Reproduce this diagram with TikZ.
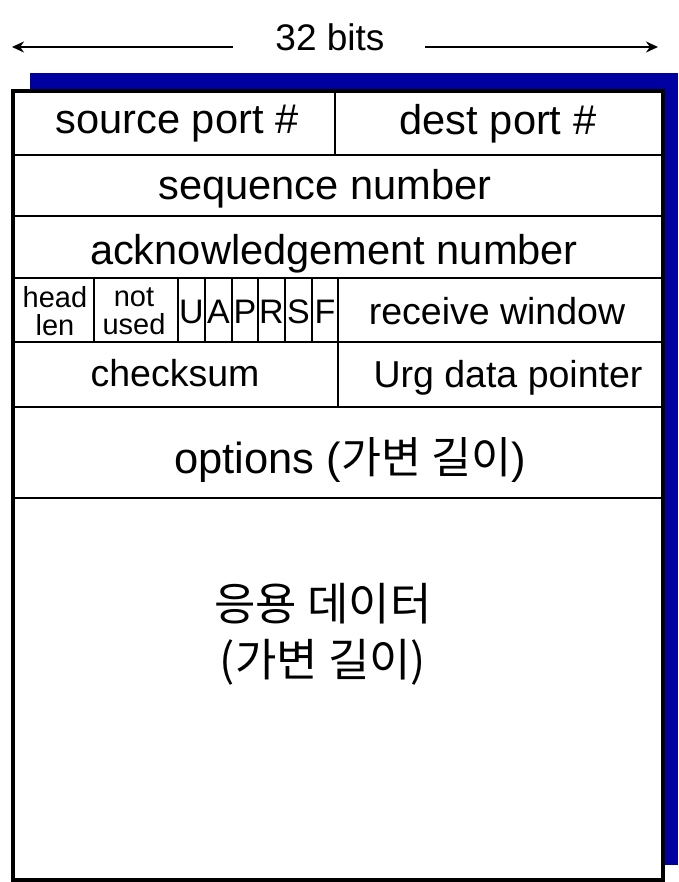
\documentclass[tikz,border=0pt]{standalone}
\usepackage{fontspec}
\setmainfont{Liberation Sans}
\newfontfamily\kr{Noto Sans CJK KR}
\usetikzlibrary{arrows.meta}
\definecolor{shadowblue}{RGB}{0,0,160}
\begin{document}
\begin{tikzpicture}[x=1pt,y=-1pt,
  lbl/.style={inner sep=0pt,font=\fontsize{41.6}{46}\selectfont},
  mid/.style={inner sep=0pt,font=\fontsize{37.5}{42}\selectfont},
  small/.style={inner sep=0pt,align=center,font=\fontsize{29}{28}\selectfont},
  flag/.style={inner sep=0pt,font=\fontsize{34}{36}\selectfont},
  inner/.style={line width=2.5pt},
  outer/.style={line width=4pt},
  dimarrow/.style={line width=2pt,-{Stealth[length=12pt,width=11pt]}}]
\useasboundingbox (0,0) rectangle (678,882);
% shadow
\fill[shadowblue] (30,73) rectangle (678,865);
% main box
\fill[white] (13,91) rectangle (663,880);
% row lines
\draw[inner] (13,155) -- (663,155);
\draw[inner] (13,216) -- (663,216);
\draw[inner] (13,278) -- (663,278);
\draw[inner] (13,342) -- (663,342);
\draw[inner] (13,407) -- (663,407);
\draw[inner] (13,498) -- (663,498);
% column lines
\draw[inner] (335,91) -- (335,155);
\draw[inner] (94,278) -- (94,342);
\draw[inner] (178,278) -- (178,342);
\draw[inner] (205,278) -- (205,342);
\draw[inner] (232,278) -- (232,342);
\draw[inner] (258,278) -- (258,342);
\draw[inner] (285,278) -- (285,342);
\draw[inner] (312,278) -- (312,342);
\draw[inner] (338,278) -- (338,407);
\draw[outer] (13,91) rectangle (663,880);
% header label
\node[inner sep=0pt,font=\fontsize{37}{40}\selectfont] (bits) at (330,37) {32 bits};
\coordinate (lend) at (12,47);
\coordinate (rend) at (658,47);
\coordinate (lstart) at (233,47);
\coordinate (rstart) at (425,47);
\draw[dimarrow] (lstart) -- (lend);
\draw[dimarrow] (rstart) -- (rend);
% fields
\node[lbl] (src) at (177,124) {source port \#};
\node[lbl] (dst) at (498,124) {dest port \#};
\node[lbl] (seq) at (325,189) {sequence number};
\node[lbl] (ack) at (334,254) {acknowledgement number};
\node[small] (hl) at (55,311) {head\\len};
\node[small] (nu) at (134,311) {not\\used};
\node[flag] (fu) at (191.5,312) {U};
\node[flag] (fa) at (218.5,312) {A};
\node[flag] (fp) at (245,312) {P};
\node[flag] (fr) at (271.5,312) {R};
\node[flag] (fs) at (298.5,312) {S};
\node[flag] (ff) at (325,312) {F};
\node[mid] (rw) at (497,311) {receive window};
\node[mid] (cs) at (175,373) {checksum};
\node[mid] (urg) at (508,378) {Urg data pointer};
\node[inner sep=0pt,font=\fontsize{43.5}{48}\selectfont] (opt) at (350,460) {options ({\kr 가변 길이})};
\node[inner sep=0pt,align=center,font=\fontsize{45}{56}\kr] (data) at (323,634) {응용 데이터\\(가변 길이)};
\end{tikzpicture}
\end{document}
